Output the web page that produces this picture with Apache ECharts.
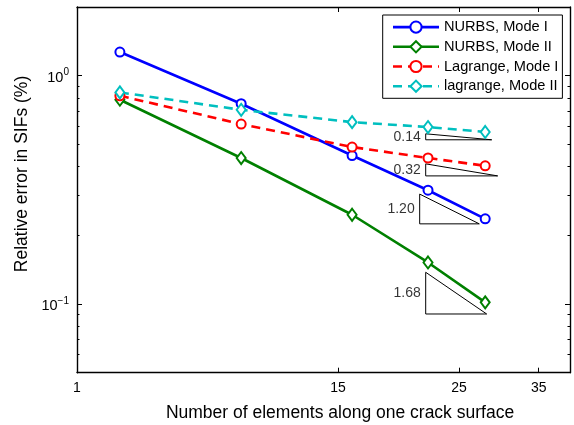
<!DOCTYPE html>
<html lang="en">
<head>
    <meta charset="utf-8"/>
    <title>Relative error in SIFs</title>
    <script src="https://cdn.jsdelivr.net/npm/echarts@6/dist/echarts.min.js"></script>
    <style>
        html, body { margin: 0; padding: 0; background: #fff; }
        #main { width: 574px; height: 425px; }
    </style>
</head>
<body>
<div id="main"></div>
<script>
    // x positions along the (relabelled) horizontal axis, 0..100
    var xPos = [8.7, 33.3, 55.8, 71.2, 82.8];
    var xTickPos = [0, 52.94, 77.48, 93.65];
    var xTickLabels = ['1', '15', '25', '35'];

    // relative error in SIFs (%)
    var nurbsMode1 = [1.27, 0.754, 0.447, 0.315, 0.236];
    var nurbsMode2 = [0.785, 0.436, 0.246, 0.152, 0.1017];
    var lagMode1 = [0.817, 0.614, 0.487, 0.436, 0.403];
    var lagMode2 = [0.845, 0.709, 0.626, 0.596, 0.567];
    var seriesNames = ['NURBS, Mode I', 'NURBS, Mode II', 'Lagrange, Mode I', 'lagrange, Mode II'];

    // slope triangles
    var triLabels = ['0.14', '0.32', '1.20', '1.68'];
    var triX0 = [70.73, 70.73, 69.51, 70.73];
    var triX1 = [84.12, 85.33, 81.6, 83.1];
    var triTop = [0.5566, 0.411, 0.303, 0.1377];
    var triBottom = [0.524, 0.364, 0.2244, 0.0904];

    var yMin = 0.05, yMax = 2;
    var yMajor = [0.1, 1];
    var yMinor = [0.06, 0.07, 0.08, 0.09, 0.2, 0.3, 0.4, 0.5, 0.6, 0.7, 0.8, 0.9];

    var lg = function (v) { return Math.log10(v); };
    var FONT = '"Liberation Sans", Arial, Helvetica, sans-serif';

    function pts(vals) {
        return vals.map(function (v, i) { return [xPos[i], lg(v)]; });
    }

    function dataSeries(name, vals, color, symbol, dashed) {
        return {
            name: name,
            type: 'line',
            data: pts(vals),
            symbol: symbol,
            symbolSize: symbol === 'emptyCircle' ? 9 : [9, 12],
            showAllSymbol: true,
            lineStyle: { color: color, width: 2.6, type: dashed ? [9, 6] : 'solid' },
            itemStyle: { color: color, borderColor: color, borderWidth: 2.4 },
            emphasis: { disabled: true },
            z: 3
        };
    }

    var series = [
        dataSeries(seriesNames[0], nurbsMode1, '#0000ff', 'emptyCircle', false),
        dataSeries(seriesNames[1], nurbsMode2, '#008000', 'emptyDiamond', false),
        dataSeries(seriesNames[2], lagMode1, '#ff0000', 'emptyCircle', true),
        dataSeries(seriesNames[3], lagMode2, '#00bfbf', 'emptyDiamond', true)
    ];

    triLabels.forEach(function (t, i) {
        series.push({
            type: 'line',
            silent: true,
            symbol: 'none',
            lineStyle: { color: '#000', width: 1 },
            data: [[triX0[i], lg(triTop[i])], [triX0[i], lg(triBottom[i])],
                   [triX1[i], lg(triBottom[i])], [triX0[i], lg(triTop[i])]],
            z: 2
        });
        series.push({
            type: 'scatter',
            silent: true,
            symbolSize: 0,
            data: [[triX0[i], (lg(triTop[i]) + lg(triBottom[i])) / 2]],
            label: {
                show: true, position: 'left', distance: 5,
                formatter: t, color: '#000', fontSize: 14, fontFamily: FONT
            },
            z: 4
        });
    });

    var yExtent = { min: lg(yMin), max: lg(yMax) };

    function yAxisDef(position, vals, len, labels, line) {
        return {
            type: 'value', position: position, min: yExtent.min, max: yExtent.max,
            axisLine: { show: line, lineStyle: { color: '#000', width: 1.4 } },
            splitLine: { show: false },
            axisTick: { show: true, inside: true, length: len, customValues: vals.map(lg),
                        lineStyle: { color: '#000', width: 1 } },
            axisLabel: labels ? {
                show: true, margin: 8, customValues: vals.map(lg),
                formatter: function (v) {
                    var e = Math.round(v);
                    return '{b|10}{s|' + (e < 0 ? '\u2212' + (-e) : e) + '}';
                },
                rich: {
                    b: { fontSize: 14.5, fontFamily: FONT, color: '#000', padding: [4, 0, 0, 0] },
                    s: { fontSize: 10, fontFamily: FONT, color: '#000', padding: [0, 0, 6, 0] }
                }
            } : { show: false }
        };
    }

    function xAxisDef(position, labels) {
        return {
            type: 'value', position: position, min: 0, max: 100,
            axisLine: { show: true, onZero: false, lineStyle: { color: '#000', width: 1.4 } },
            splitLine: { show: false },
            axisTick: { show: true, inside: true, length: 5, customValues: xTickPos,
                        lineStyle: { color: '#000', width: 1 } },
            axisLabel: labels ? {
                show: true, margin: 8, customValues: xTickPos,
                color: '#000', fontSize: 14, fontFamily: FONT,
                formatter: function (v) {
                    var k = xTickPos.indexOf(v);
                    return k >= 0 ? xTickLabels[k] : '';
                }
            } : { show: false }
        };
    }

    var chart = echarts.init(document.getElementById('main'), null, { renderer: 'canvas' });
    var option = {
        backgroundColor: '#fff',
        animation: false,
        grid: { left: 77, right: 4, top: 7, bottom: 52.3, containLabel: false, outerBoundsMode: 'none' },
        legend: {
            data: seriesNames,
            orient: 'vertical',
            left: 382.7, top: 15,
            padding: [4.6, 4, 4.6, 9],
            itemGap: 4.7,
            itemWidth: 46, itemHeight: 14,
            backgroundColor: '#fff',
            borderColor: '#000', borderWidth: 1, borderRadius: 0,
            lineStyle: { width: 2.6 },
            textStyle: { fontSize: 14.6, fontFamily: FONT, color: '#000' },
            selectedMode: false
        },
        xAxis: [xAxisDef('bottom', true), xAxisDef('top', false)],
        yAxis: [
            yAxisDef('left', yMajor, 5, true, true),
            yAxisDef('left', yMinor, 2.5, false, false),
            yAxisDef('right', yMajor, 5, false, true),
            yAxisDef('right', yMinor, 2.5, false, false)
        ],
        graphic: [
            {
                type: 'text', x: 340, y: 413,
                style: { text: 'Number of elements along one crack surface', fontSize: 17.5,
                         fontFamily: FONT, fill: '#000', textAlign: 'center', textVerticalAlign: 'middle' }
            },
            {
                type: 'text', x: 22, y: 174, rotation: Math.PI / 2,
                style: { text: 'Relative error in SIFs (%)', fontSize: 17.5,
                         fontFamily: FONT, fill: '#000', textAlign: 'center', textVerticalAlign: 'middle' }
            }
        ],
        series: series
    };
    chart.setOption(option);
</script>
</body>
</html>
